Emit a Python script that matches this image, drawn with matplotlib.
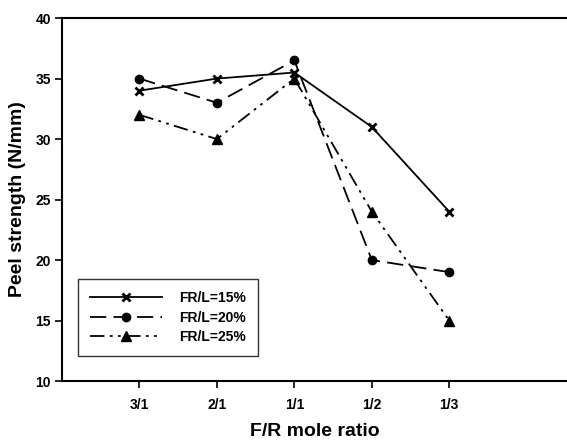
import matplotlib.pyplot as plt

plt.rcParams["font.family"] = ["Liberation Sans", "DejaVu Sans"]
plt.rcParams["font.weight"] = "bold"

ratios = ["3/1", "2/1", "1/1", "1/2", "1/3"]
positions = [1, 2, 3, 4, 5]
fr15 = [34, 35, 35.5, 31, 24]
fr20 = [35, 33, 36.5, 20, 19]
fr25 = [32, 30, 35, 24, 15]

fig = plt.figure(figsize=(5.67, 4.41), dpi=100)
ax = fig.add_axes([0.1093, 0.136, 0.8907, 0.823])

ax.plot(positions, fr15, color="black", lw=1.3, ls="-", marker="x",
        ms=6, mew=2.0, label="FR/L=15%")
ax.plot(positions, fr20, color="black", lw=1.3, ls=(0, (9, 4)), marker="o",
        ms=6, label="FR/L=20%")
ax.plot(positions, fr25, color="black", lw=1.3, ls=(0, (8, 3, 1.5, 3, 1.5, 3)),
        marker="^", ms=6.5, label="FR/L=25%")

ax.set_xlim(0, 6.52)
ax.set_ylim(10, 40)
ax.set_xticks(positions)
ax.set_xticklabels(ratios)
ax.set_yticks(range(10, 41, 5))
ax.tick_params(direction="out", length=5, width=1.2, labelsize=10, pad=7)
ax.tick_params(axis="y", pad=3)
for s in ["left", "bottom", "top"]:
    ax.spines[s].set_linewidth(1.5)
ax.spines["right"].set_visible(False)

ax.set_xlabel("F/R mole ratio", fontsize=14, fontweight="bold", labelpad=8)
ax.set_ylabel("Peel strength (N/mm)", fontsize=14, fontweight="bold", labelpad=7)

leg = ax.legend(loc="lower left", bbox_to_anchor=(0.032, 0.069), fontsize=10,
                handlelength=5.2, handletextpad=1.2, frameon=True, fancybox=False,
                borderpad=0.85, labelspacing=0.4, borderaxespad=0)
leg.get_frame().set_edgecolor("black")
leg.get_frame().set_linewidth(1.0)

fig.savefig("out.png", dpi=100)
